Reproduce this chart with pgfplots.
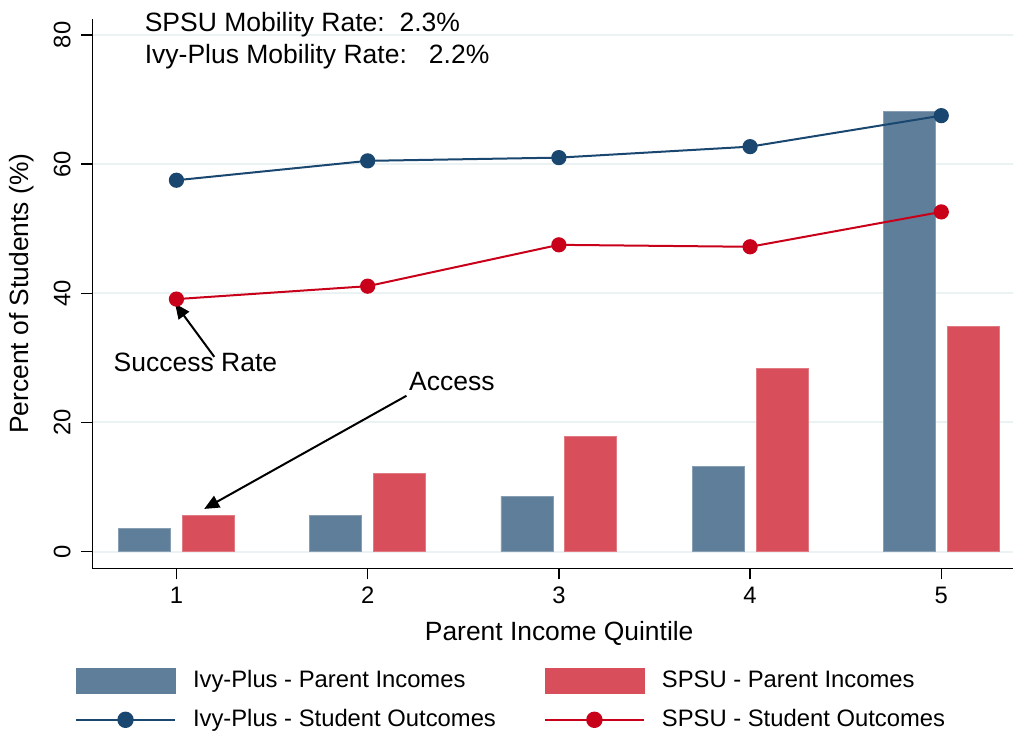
\documentclass[border=0pt]{standalone}
\usepackage{fontspec}
\setmainfont{Liberation Sans}
\usepackage{pgfplots}
\pgfplotsset{compat=1.18}
\usetikzlibrary{arrows.meta}
\definecolor{ivybar}{RGB}{95,126,154}
\definecolor{spsubar}{RGB}{217,78,91}
\definecolor{ivyline}{RGB}{26,71,111}
\definecolor{spsuline}{RGB}{200,0,25}
\definecolor{gridc}{RGB}{234,242,243}
\begin{document}
\begin{tikzpicture}
\path[use as bounding box] (-46.25pt,-80.85pt) rectangle (460.25pt,284.15pt);
\begin{axis}[
  scale only axis, width=460.25pt, height=274.5pt,
  xmin=0.561, xmax=5.375, ymin=-2.57, ymax=82.41,
  axis x line=bottom, axis y line=left,
  axis line style={-, line width=0.75pt, black},
  xtick={1,2,3,4,5}, ytick={0,20,40,60,80},
  tick align=outside, major tick length=5.5pt,
  tick style={line width=0.75pt, black},
  ymajorgrids, grid style={color=gridc, line width=1pt},
  /pgf/number format/assume math mode=true,
  tick label style={font=\fontsize{11.9}{14}\selectfont},
  xticklabel style={anchor=north, inner sep=0pt, yshift=-3.5pt},
  yticklabel style={xshift=-5.5pt, rotate=90, anchor=base, inner sep=0pt},
  xlabel={Parent Income Quintile},
  ylabel={Percent of Students (\%)},
  label style={font=\fontsize{13.2}{15}\selectfont},
  xlabel style={at={(axis description cs:0.507,-0.1324)}, anchor=base, inner sep=0pt},
  ylabel style={at={(axis description cs:-0.0766,0.5)}, anchor=center, inner sep=0pt},
  clip=false,
  legend columns=2,
  legend cell align=left,
  legend style={at={(-0.019,-0.181)}, anchor=north west, draw=none, fill=none,
    inner sep=0pt, outer sep=0pt,
    font=\fontsize{11.9}{14}\selectfont,
    nodes={inner sep=0pt},
    /tikz/every odd column/.append style={column sep=8.5pt},
    /tikz/every even column/.append style={column sep=24pt},
    /tikz/row sep=8pt},
]
\addplot[ybar, bar width=0.272, bar shift=-0.167, fill=ivybar, draw=ivybar!75!white, line width=0.4pt,
  legend image code/.code={\fill[ivybar] (0pt,-6.3pt) rectangle (49.5pt,6.3pt);}]
  coordinates {(1,3.62) (2,5.57) (3,8.58) (4,13.2) (5,68.1)};
\addlegendentry{Ivy-Plus - Parent Incomes}
\addplot[ybar, bar width=0.272, bar shift=0.167, fill=spsubar, draw=spsubar!75!white, line width=0.4pt,
  legend image code/.code={\fill[spsubar] (0pt,-6.3pt) rectangle (49.5pt,6.3pt);}]
  coordinates {(1,5.68) (2,12.07) (3,17.9) (4,28.4) (5,34.8)};
\addlegendentry{SPSU - Parent Incomes}
\addplot[color=ivyline, line width=1pt, mark=*, mark size=3.3pt, mark options={fill=ivyline, draw=ivyline},
  legend image code/.code={\draw[ivyline, line width=1pt] (0pt,0pt) -- (49.5pt,0pt); \fill[ivyline] (24.75pt,0pt) circle (3.6pt);}]
  coordinates {(1,57.5) (2,60.5) (3,61.0) (4,62.7) (5,67.5)};
\addlegendentry{Ivy-Plus - Student Outcomes}
\addplot[color=spsuline, line width=1pt, mark=*, mark size=3.3pt, mark options={fill=spsuline, draw=spsuline},
  legend image code/.code={\draw[spsuline, line width=1pt] (0pt,0pt) -- (49.5pt,0pt); \fill[spsuline] (24.75pt,0pt) circle (3.6pt);}]
  coordinates {(1,39.1) (2,41.1) (3,47.5) (4,47.2) (5,52.6)};
\addlegendentry{SPSU - Student Outcomes}
\node[anchor=base west, inner sep=0pt, font=\fontsize{13.25}{15}\selectfont] at (axis cs:0.8325,80.57) {SPSU Mobility Rate:\ \ 2.3\%};
\node[anchor=base west, inner sep=0pt, font=\fontsize{13.25}{15}\selectfont] at (axis cs:0.8325,75.57) {Ivy-Plus Mobility Rate:\ \ \ 2.2\%};
\node[anchor=base west, inner sep=0pt, font=\fontsize{13.25}{15}\selectfont] at (axis cs:0.670,27.9) {Success Rate};
\node[anchor=base west, inner sep=0pt, font=\fontsize{13.25}{15}\selectfont] at (axis cs:2.215,24.96) {Access};
\draw[line width=1pt, -{Triangle[length=7.5pt,width=6.5pt]}] (axis cs:1.198,30.16) -- (axis cs:0.993,38.4);
\draw[line width=1pt, -{Triangle[length=7.5pt,width=6.5pt]}] (axis cs:2.203,24.14) -- (axis cs:1.145,6.62);
\end{axis}
\end{tikzpicture}
\end{document}
